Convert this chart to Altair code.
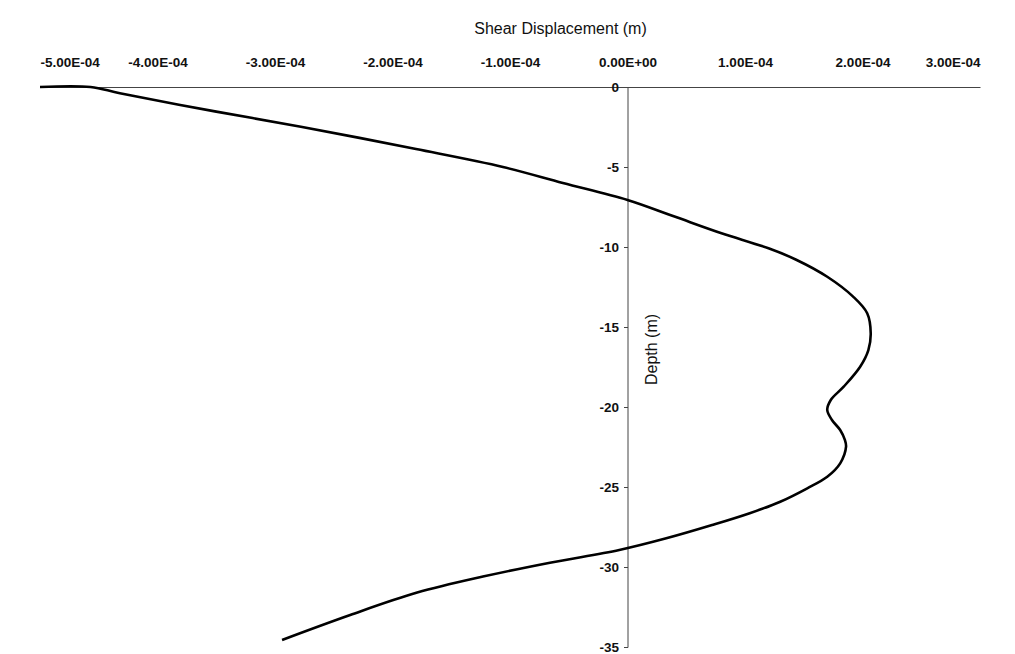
import altair as alt
import pandas as pd

# Shear displacement profile (displacement in m, depth in m)
disp = [-5.00e-4, -4.57e-4, -4.32e-4, -3.50e-4, -2.78e-4, -1.80e-4, -1.06e-4,
        -0.55e-4, 0.00e-4,
        0.40e-4, 0.80e-4, 1.20e-4, 1.44e-4, 1.70e-4, 1.92e-4, 2.04e-4, 2.07e-4,
        2.05e-4, 1.98e-4, 1.84e-4, 1.73e-4, 1.70e-4, 1.74e-4, 1.81e-4, 1.85e-4,
        1.86e-4, 1.81e-4, 1.70e-4, 1.53e-4, 1.30e-4, 1.04e-4, 0.72e-4, 0.33e-4,
        -0.07e-4, -0.66e-4, -1.23e-4, -1.79e-4, -2.36e-4, -2.94e-4]
depth = [0.0, 0.0, -0.39, -1.54, -2.48, -3.88, -5.0,
         -6.0, -7.06,
         -8.1, -9.14, -10.08, -10.81, -11.86, -13.1, -14.14, -15.4,
         -16.44, -17.48, -18.73, -19.56, -20.19, -20.81, -21.44, -22.06,
         -22.48, -23.52, -24.36, -25.08, -25.92, -26.64, -27.38, -28.21,
         -28.94, -29.73, -30.6, -31.6, -33.0, -34.56]

x_ticks = [-5e-4, -4e-4, -3e-4, -2e-4, -1e-4, 0.0, 1e-4, 2e-4, 3e-4]
y_ticks = [0, -5, -10, -15, -20, -25, -30, -35]

df = pd.DataFrame({"disp": disp, "depth": depth, "idx": list(range(len(disp)))})

FONT = "Liberation Sans"

chart = alt.Chart(df).mark_line(
    color="black", strokeWidth=2.6, interpolate="catmull-rom"
).encode(
    x=alt.X(
        "disp:Q",
        scale=alt.Scale(domain=[-5e-4, 3e-4], nice=False, zero=False),
        axis=alt.Axis(
            orient="top",
            values=x_ticks,
            labelExpr="datum.value == 0 ? '0.00E+00' : replace(format(datum.value*10000, '.2f'), '\u2212', '-') + 'E-04'",
            ticks=False,
            grid=False,
            domainColor="#444",
            domainWidth=1,
            labelFont=FONT,
            labelFontSize=13.5,
            labelFontWeight="bold",
            labelColor="#111",
            labelPadding=18,
            title="Shear Displacement (m)",
            titleFont=FONT,
            titleFontSize=16,
            titleFontWeight="normal",
            titleColor="#111",
            titleX=520,
            titleY=-59,
            titleBaseline="middle",
            titleAlign="center",
        ),
    ),
    y=alt.Y(
        "depth:Q",
        scale=alt.Scale(domain=[-35, 0], nice=False, zero=False),
        axis=alt.Axis(
            orient="left",
            offset=-587.5,
            values=y_ticks,
            labelExpr="'' + datum.value",
            tickSize=4,
            tickColor="#444",
            grid=False,
            domainColor="#444",
            domainWidth=1,
            labelFont=FONT,
            labelFontSize=13.5,
            labelFontWeight="bold",
            labelColor="#111",
            labelPadding=5,
            title="Depth (m)",
            titleFont=FONT,
            titleFontSize=16,
            titleFontWeight="normal",
            titleColor="#111",
            titleX=23.5,
            titleY=262,
            titleAngle=-90,
            titleBaseline="middle",
            titleAlign="center",
        ),
    ),
    order="idx:Q",
).properties(
    width=940,
    height=560,
    autosize=alt.AutoSizeParams(type="none"),
    padding={"left": 32, "top": 79, "right": 27, "bottom": 6},
    background="white",
).configure_view(stroke=None, strokeWidth=0)

chart.save("out.html", embed_options={"renderer": "svg", "actions": False})
